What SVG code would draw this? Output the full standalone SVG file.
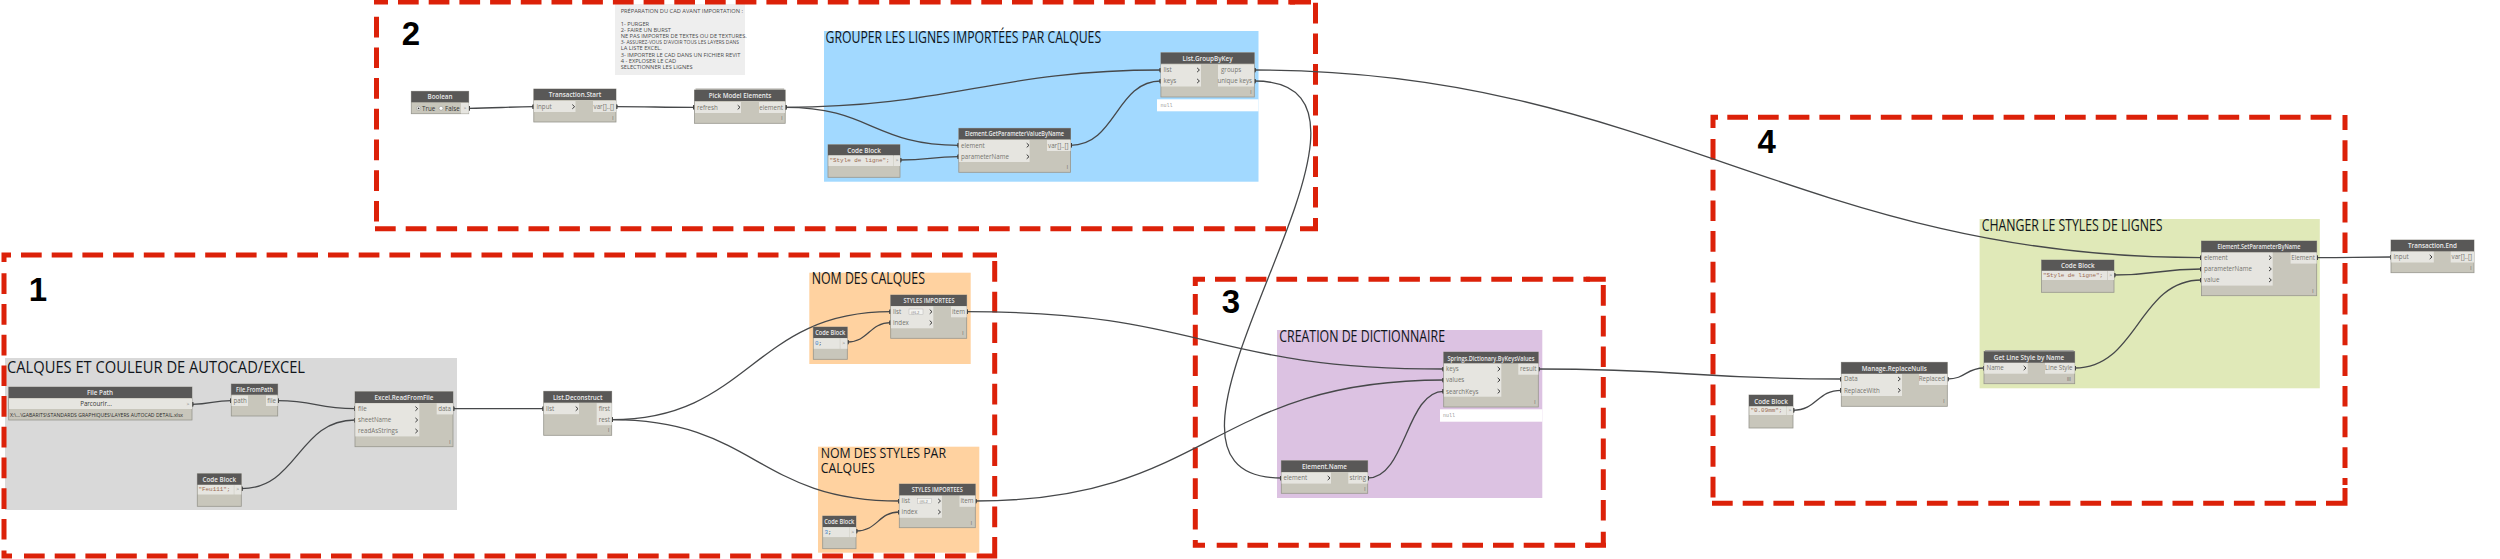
<svg xmlns="http://www.w3.org/2000/svg" width="2500" height="559" viewBox="0 0 2500 559">
<style>
text{font-family:"Open Sans","Noto Sans","Liberation Sans",sans-serif}
.d{fill:none;stroke:#dc2109;stroke-width:5;stroke-dasharray:20.7 10}
.s{fill:none;stroke:#dc2109;stroke-width:5}
.n{font-family:"Liberation Sans",Arial,sans-serif;font-weight:700;font-size:33px;fill:#000;text-anchor:middle}
.t{font-size:15.500px;fill:#10151a}
.t2{font-size:15px;fill:#10151a}
.note{font-size:5.700px;fill:#4a4a4a}
.w path{fill:none;stroke:#46484a;stroke-width:1.3;marker-start:url(#nub);marker-end:url(#nub)}
.b{fill:#c8c6bb;stroke:#97968e;stroke-width:.8}
.h{fill:#595857}
.r{fill:#e6e5e0}
.ht{font-size:6.300px;font-weight:600;fill:#ebebeb;text-anchor:middle}
.p{font-size:6.200px;fill:#75746e}
.dk{fill:#333}
.e{text-anchor:end}
.l{font-size:5px;fill:#66655f;text-anchor:middle}
.c{fill:none;stroke:#3a3a3a;stroke-width:1}
.code{font-family:"Liberation Mono","DejaVu Sans Mono",monospace;font-size:5.900px;fill:#9a6a50}
.num{fill:#4a86c8}
.sc{fill:#333}
.g{font-size:5px;fill:#777;text-anchor:middle}
.nl{font-family:"Liberation Mono",monospace;font-size:5px;fill:#999}
.lv{font-size:4.200px;fill:#777}
.sp{fill:#f3f3f0;stroke:#aaa;stroke-width:.4}
.pth{font-size:5.700px;fill:#2a2a2a}
.st{fill:#a9a8a2}
.o{fill:#fff}
</style>
<defs>
<marker id="nub" markerUnits="userSpaceOnUse" markerWidth="3" markerHeight="5" refX="1.5" refY="2.5" orient="0"><rect width="3" height="5" rx="1" fill="#3a3a3a"/></marker>
<path id="ch" class="c" d="M-1.3-2.1L1 0-1.3 2.1"/>
</defs>

<g id="groups">
<rect x="5" y="358" width="452" height="152" fill="#d9d9d9"/>
<rect x="824" y="31" width="434.500" height="150.700" fill="#a2d9ff"/>
<rect x="809.300" y="272.700" width="161.400" height="91.300" fill="#ffd2a0"/>
<rect x="818" y="446.700" width="161.300" height="106" fill="#ffd2a0"/>
<rect x="1277" y="330" width="265.300" height="168" fill="#dcc2e2"/>
<rect x="1979.600" y="219" width="340.200" height="169.300" fill="#e0e9b8"/>
<text class="t" x="7" y="372.700" textLength="298" lengthAdjust="spacingAndGlyphs">CALQUES ET COULEUR DE AUTOCAD/EXCEL</text>
<text class="t" x="825.600" y="42.700" textLength="275.500" lengthAdjust="spacingAndGlyphs">GROUPER LES LIGNES IMPORTÉES PAR CALQUES</text>
<text class="t" x="811.700" y="284" textLength="113.300" lengthAdjust="spacingAndGlyphs">NOM DES CALQUES</text>
<text class="t2" x="820.700" y="457.700" textLength="125.300" lengthAdjust="spacingAndGlyphs">NOM DES STYLES PAR</text>
<text class="t2" x="820.700" y="473.300" textLength="54" lengthAdjust="spacingAndGlyphs">CALQUES</text>
<text class="t" x="1279.300" y="341.700" textLength="165.700" lengthAdjust="spacingAndGlyphs">CREATION DE DICTIONNAIRE</text>
<text class="t" x="1981.700" y="230.700" textLength="180.800" lengthAdjust="spacingAndGlyphs">CHANGER LE STYLES DE LIGNES</text>
</g>

<g id="note">
<rect x="615" y="4" width="130" height="71" fill="#eeeeee"/>
<text class="note" x="620.700" y="13">PRÉPARATION DU CAD AVANT IMPORTATION :</text>
<text class="note" x="620.700" y="25.500">1- PURGER</text>
<text class="note" x="620.700" y="31.700">2- FAIRE UN BURST</text>
<text class="note" x="620.700" y="37.900">NE PAS IMPORTER DE TEXTES OU DE TEXTURES.</text>
<text class="note" x="620.700" y="44.100" textLength="118.300" lengthAdjust="spacingAndGlyphs">3- ASSUREZ-VOUS D'AVOIR TOUS LES LAYERS DANS</text>
<text class="note" x="620.700" y="50.300">LA LISTE EXCEL.</text>
<text class="note" x="620.700" y="56.500">3- IMPORTER LE CAD DANS UN FICHIER REVIT</text>
<text class="note" x="620.700" y="62.700">4 - EXPLOSER LE CAD</text>
<text class="note" x="620.700" y="68.900">SELECTIONNER LES LIGNES</text>
</g>

<g id="regions">
<g id="region-1">
<path class="d" d="M21 255H974M4 273.300V545M994.700 261V530M24 556H970"/>
<path class="s" d="M1.500 255H11M4 252.500V262M974 255H997M994.700 537V558.500M976.700 556H997M1.500 556H12M4 550.500V558.500"/>
<text class="n" x="38" y="301">1</text>
</g>
<g id="region-2">
<path class="d" d="M398 2H1295M376.500 16.700V222M1315.500 2.700V215M375 228.700H1290"/>
<path class="s" d="M374 2H388M1290 2H1311M1300 228.700H1318M1315.500 218V231.200"/>
<text class="n" x="411" y="45">2</text>
</g>
<g id="region-3">
<path class="d" d="M1215 279.300H1590M1195.300 294V531M1603.300 285V525M1216.700 545.300H1590"/>
<path class="s" d="M1193 279.300H1205M1195.300 276.800V286M1193 545.300H1205M1195.300 540V547.800M1586 279.300H1605.800M1606 545.300H1586M1603.300 531.700V547.800"/>
<text class="n" x="1231" y="313">3</text>
</g>
<g id="region-4">
<path class="d" d="M1727.300 117.300H2332M1713 139V498M2345 140.300V485M1712 503.300H2320"/>
<path class="s" d="M1710.500 117.300H1718M1713 115V128M2345 115V130M2345 488V505.800M2347.500 503.300H2326"/>
<text class="n" x="1766.700" y="152.700">4</text>
</g>
</g>

<g id="connectors" class="w">
<path d="M468.700 108.300C495 108.300 508 106.700 533.800 106.700"/>
<path d="M616 106.700C650 106.700 660 107.300 694.500 107.300"/>
<path d="M785.200 107.300C950 107.300 996 70 1160.900 70"/>
<path d="M785.200 107.300C870 107.300 874 145.300 958.800 145.300"/>
<path d="M900 160C930 160 930 156.700 958.800 156.700"/>
<path d="M1070.600 145.300C1116 145.300 1116 81 1160.900 81"/>
<path d="M1254.300 70C1654 70 1801 257.700 2201.400 257.700"/>
<path d="M1254.300 81C1439 81 1096 478 1281.300 478"/>
<path d="M192 404.300C212 404.300 212 400.700 231.300 400.700"/>
<path d="M277.700 400.700C316 400.700 316 408.700 355 408.700"/>
<path d="M241.300 488.700C298 488.700 298 420 355 420"/>
<path d="M453 408.700H543.700"/>
<path d="M611.700 419.700C750 419.700 752 311.700 890.700 311.700"/>
<path d="M611.700 419.700C755 419.700 756 501 899.300 501"/>
<path d="M847.300 342C869 342 869 322.700 890.700 322.700"/>
<path d="M856 531C878 531 878 512 899.300 512"/>
<path d="M966.700 311.700C1207 311.700 1204 369 1443.700 369"/>
<path d="M975.300 501C1210 501 1210 380 1443.700 380"/>
<path d="M1367.700 478C1406 478 1406 391.300 1443.700 391.300"/>
<path d="M1538.300 369C1690 369 1690 379 1841.300 379"/>
<path d="M1793 410.300C1817 410.300 1817 390.300 1841.300 390.300"/>
<path d="M1947.300 379C1966 379 1966 368 1984 368"/>
<path d="M2074.700 368C2138 368 2138 280 2201.400 280"/>
<path d="M2114 275C2158 275 2158 269 2201.400 269"/>
<path d="M2316.700 257.700C2354 257.700 2354 257 2391 257"/>
</g>

<g id="node-boolean">
<rect class="b" x="411.300" y="91.300" width="57.400" height="22.400"/><rect class="h" x="411.300" y="91.300" width="57.400" height="11"/>
<text class="ht" x="440" y="99">Boolean</text>
<circle cx="418.600" cy="108.300" r="2" fill="#fff" stroke="#888" stroke-width=".5"/><circle cx="418.600" cy="108.300" r=".9" fill="#333"/>
<text class="p dk" x="422" y="110.500">True</text>
<circle cx="441" cy="108.300" r="2" fill="#fff" stroke="#888" stroke-width=".5"/>
<text class="p dk" x="445" y="110.500">False</text>
<rect class="r" x="461" y="103" width="7.700" height="10.500"/><text class="g" x="465" y="110">&gt;</text>
</g>
<g id="node-transaction-start">
<rect class="b" x="533.800" y="89" width="82.200" height="33"/><rect class="h" x="533.800" y="89" width="82.200" height="11"/>
<text class="ht" x="575" y="97">Transaction.Start</text>
<rect class="r" x="534" y="101" width="41.500" height="11"/><text class="p" x="536.500" y="109">input</text><use href="#ch" x="573.600" y="106.700"/>
<rect class="r" x="593" y="101" width="23" height="11"/><text class="p e" x="614" y="109">var[]..[]</text>
<text class="l" x="613" y="119.500">l</text>
</g>
<g id="node-pick-model-elements">
<rect class="b" x="694.500" y="90" width="90.700" height="33.300"/><rect class="st" x="695.500" y="88.500" width="88.700" height="2"/><rect class="h" x="694.500" y="90" width="90.700" height="11"/>
<text class="ht" x="740" y="98">Pick Model Elements</text>
<rect class="r" x="695" y="102" width="46" height="11"/><text class="p" x="697" y="109.500">refresh</text><use href="#ch" x="739" y="107.300"/>
<rect class="r" x="759" y="102" width="26" height="11"/><text class="p e" x="783" y="109.500">element</text>
<text class="l" x="782" y="120.300">l</text>
</g>
<g id="node-code-block-style-1">
<rect class="b" x="828" y="144.700" width="72" height="32.600"/><rect class="h" x="828" y="144.700" width="72" height="10.700"/>
<text class="ht" x="864" y="152.500">Code Block</text>
<rect class="r" x="828.500" y="155.400" width="65" height="10.600"/><text class="code" x="829.500" y="162">"Style de ligne";</text>
<rect class="r" x="894" y="155.400" width="6" height="10.600"/><text class="g" x="897" y="162">&gt;</text>
</g>
<g id="node-get-parameter">
<rect class="b" x="958.800" y="128.300" width="111.800" height="44"/><rect class="h" x="958.800" y="128.300" width="111.800" height="11"/>
<text class="ht" x="1014.500" y="136.300" textLength="99" lengthAdjust="spacingAndGlyphs">Element.GetParameterValueByName</text>
<rect class="r" x="959" y="140" width="70.600" height="22"/>
<text class="p" x="961" y="147.500">element</text><use href="#ch" x="1028" y="145.300"/>
<text class="p" x="961" y="159">parameterName</text><use href="#ch" x="1028" y="156.700"/>
<rect class="r" x="1047" y="140" width="23.600" height="11"/><text class="p e" x="1068.500" y="147.500">var[]..[]</text>
<text class="l" x="1067.500" y="169">l</text>
</g>
<g id="node-group-by-key">
<rect class="b" x="1160.900" y="52.700" width="93.400" height="44.300"/><rect class="h" x="1160.900" y="52.700" width="93.400" height="11"/>
<text class="ht" x="1207.500" y="60.700">List.GroupByKey</text>
<rect class="r" x="1161" y="64.500" width="40" height="22"/>
<text class="p" x="1163.500" y="72.200">list</text><use href="#ch" x="1198.400" y="70"/>
<text class="p" x="1163.500" y="83.200">keys</text><use href="#ch" x="1198.400" y="81"/>
<rect class="r" x="1218" y="64.500" width="36" height="22"/>
<text class="p" x="1221" y="72.200">groups</text>
<text class="p e" x="1252" y="83.200">unique keys</text>
<text class="l" x="1251" y="94">l</text>
<rect class="o" x="1157" y="99.300" width="101.500" height="12"/><text class="nl" x="1160.500" y="107">null</text>
</g>
<g id="node-file-path">
<rect class="b" x="8.700" y="387" width="183.300" height="33"/><rect class="h" x="8.700" y="387" width="183.300" height="11"/>
<text class="ht" x="100" y="395">File Path</text>
<rect class="r" x="9" y="398.700" width="175" height="10.300"/><text class="p dk" x="96" y="405.800" text-anchor="middle">Parcourir...</text>
<rect class="r" x="184" y="398.700" width="8" height="10.300"/><text class="g" x="188" y="406">&gt;</text>
<text class="pth" x="10" y="417" textLength="173" lengthAdjust="spacingAndGlyphs">X:\...\GABARITS\STANDARDS GRAPHIQUES\LAYERS AUTOCAD DETAIL.xlsx</text>
</g>
<g id="node-file-from-path">
<rect class="b" x="231.300" y="384" width="46.400" height="32"/><rect class="h" x="231.300" y="384" width="46.400" height="10.700"/>
<text class="ht" x="254.500" y="392" textLength="37" lengthAdjust="spacingAndGlyphs">File.FromPath</text>
<rect class="r" x="231.500" y="395.500" width="16.500" height="10.500"/><text class="p" x="233.500" y="403">path</text>
<rect class="r" x="266" y="395.500" width="11.700" height="10.500"/><text class="p e" x="276" y="403">file</text>
</g>
<g id="node-excel-read">
<rect class="b" x="355" y="391.700" width="98" height="55"/><rect class="h" x="355" y="391.700" width="98" height="11.300"/>
<text class="ht" x="404" y="400">Excel.ReadFromFile</text>
<rect class="r" x="355.300" y="403.400" width="64" height="33"/>
<text class="p" x="358" y="411">file</text><use href="#ch" x="416.700" y="408.700"/>
<text class="p" x="358" y="422.300">sheetName</text><use href="#ch" x="416.700" y="420"/>
<text class="p" x="358" y="433.300">readAsStrings</text><use href="#ch" x="416.700" y="431"/>
<rect class="r" x="436.700" y="403.400" width="16.300" height="11"/><text class="p e" x="451" y="411">data</text>
<text class="l" x="450" y="443.500">l</text>
</g>
<g id="node-code-block-feu">
<rect class="b" x="197.300" y="473.700" width="44" height="32.600"/><rect class="h" x="197.300" y="473.700" width="44" height="11"/>
<text class="ht" x="219.300" y="482">Code Block</text>
<rect class="r" x="197.800" y="485" width="36" height="9.500"/><text class="code" x="198.500" y="491">"Feu111";</text>
<rect class="r" x="234.300" y="485" width="7" height="9.500"/><text class="g" x="237.800" y="491">&gt;</text>
</g>
<g id="node-list-deconstruct">
<rect class="b" x="543.700" y="391.300" width="68" height="44"/><rect class="h" x="543.700" y="391.300" width="68" height="11.300"/>
<text class="ht" x="577.700" y="399.600">List.Deconstruct</text>
<rect class="r" x="544" y="403.200" width="35" height="11"/><text class="p" x="546" y="411">list</text><use href="#ch" x="577" y="408.700"/>
<rect class="r" x="596.700" y="403.200" width="15" height="22"/>
<text class="p e" x="610" y="411">first</text><text class="p e" x="610" y="422">rest</text>
<text class="l" x="608.700" y="431.500">l</text>
</g>
<g id="node-code-block-0">
<rect class="b" x="813.300" y="327" width="34" height="32.300"/><rect class="h" x="813.300" y="327" width="34" height="11"/>
<text class="ht" x="830.300" y="335" textLength="30" lengthAdjust="spacingAndGlyphs">Code Block</text>
<rect class="r" x="813.800" y="338.300" width="26" height="10.500"/><text class="code" x="815" y="345"><tspan class="num">0</tspan><tspan class="sc">;</tspan></text>
<rect class="r" x="840.300" y="338.300" width="7" height="10.500"/><text class="g" x="843.800" y="345">&gt;</text>
</g>
<g id="node-styles-importees-1">
<rect class="b" x="890.700" y="295" width="76" height="43.300"/><rect class="h" x="890.700" y="295" width="76" height="11"/>
<text class="ht" x="929" y="303" textLength="51" lengthAdjust="spacingAndGlyphs">STYLES IMPORTEES</text>
<rect class="r" x="891" y="306.300" width="42.300" height="22"/>
<text class="p" x="893" y="314">list</text><rect class="sp" x="909" y="309" width="14" height="5.500"/><text class="lv" x="911" y="313.500">@L2</text><use href="#ch" x="931" y="311.700"/>
<text class="p" x="893" y="325">index</text><use href="#ch" x="931" y="322.700"/>
<rect class="r" x="951" y="306.300" width="15.700" height="11"/><text class="p e" x="965" y="314">item</text>
<text class="l" x="963" y="335">l</text>
</g>
<g id="node-code-block-3">
<rect class="b" x="822.700" y="516" width="33.300" height="32.700"/><rect class="h" x="822.700" y="516" width="33.300" height="11"/>
<text class="ht" x="839.300" y="524" textLength="30" lengthAdjust="spacingAndGlyphs">Code Block</text>
<rect class="r" x="823.200" y="527.300" width="26" height="9.800"/><text class="code" x="824.500" y="533.500"><tspan class="num">3</tspan><tspan class="sc">;</tspan></text>
<rect class="r" x="849.500" y="527.300" width="6.500" height="9.800"/><text class="g" x="852.800" y="533.500">&gt;</text>
</g>
<g id="node-styles-importees-2">
<rect class="b" x="899.300" y="484" width="76" height="43.700"/><rect class="h" x="899.300" y="484" width="76" height="11.300"/>
<text class="ht" x="937.300" y="492.300" textLength="51" lengthAdjust="spacingAndGlyphs">STYLES IMPORTEES</text>
<rect class="r" x="899.600" y="495.800" width="42.300" height="22"/>
<text class="p" x="901.600" y="503.300">list</text><rect class="sp" x="917.600" y="498.300" width="14" height="5.500"/><text class="lv" x="919.600" y="502.800">@L2</text><use href="#ch" x="939.500" y="501"/>
<text class="p" x="901.600" y="514.300">index</text><use href="#ch" x="939.500" y="512"/>
<rect class="r" x="959.500" y="495.800" width="15.700" height="11"/><text class="p e" x="973.500" y="503.300">item</text>
<text class="l" x="971.500" y="524.500">l</text>
</g>
<g id="node-dictionary">
<rect class="b" x="1443.700" y="352" width="94.600" height="55"/><rect class="h" x="1443.700" y="352" width="94.600" height="11.300"/>
<text class="ht" x="1491" y="360.500" textLength="87" lengthAdjust="spacingAndGlyphs">Springs.Dictionary.ByKeysValues</text>
<rect class="r" x="1444" y="363.700" width="57.300" height="33"/>
<text class="p" x="1446" y="371.300">keys</text><use href="#ch" x="1499" y="369"/>
<text class="p" x="1446" y="382.300">values</text><use href="#ch" x="1499" y="380"/>
<text class="p" x="1446" y="393.600">searchKeys</text><use href="#ch" x="1499" y="391.300"/>
<rect class="r" x="1518.300" y="363.700" width="20" height="11"/><text class="p e" x="1536.500" y="371.300">result</text>
<text class="l" x="1535" y="403.500">l</text>
<rect class="o" x="1440" y="409.300" width="102.300" height="12.400"/><text class="nl" x="1443" y="417">null</text>
</g>
<g id="node-element-name">
<rect class="b" x="1281.300" y="460.700" width="86.400" height="32.600"/><rect class="h" x="1281.300" y="460.700" width="86.400" height="11.300"/>
<text class="ht" x="1324.500" y="469">Element.Name</text>
<rect class="r" x="1281.600" y="472.600" width="49.400" height="11"/><text class="p" x="1283.500" y="480.300">element</text><use href="#ch" x="1329" y="478"/>
<rect class="r" x="1348.300" y="472.600" width="19.400" height="11"/><text class="p e" x="1366" y="480.300">string</text>
<text class="l" x="1365" y="490.500">l</text>
</g>
<g id="node-code-block-mm">
<rect class="b" x="1749" y="395" width="44" height="33"/><rect class="h" x="1749" y="395" width="44" height="11.300"/>
<text class="ht" x="1771" y="403.500">Code Block</text>
<rect class="r" x="1749.500" y="406.500" width="37" height="8.500"/><text class="code" x="1750.500" y="412">"0.09mm";</text>
<rect class="r" x="1787" y="406.500" width="6" height="8.500"/><text class="g" x="1790" y="412">&gt;</text>
</g>
<g id="node-replace-nulls">
<rect class="b" x="1841.300" y="362.300" width="106" height="44"/><rect class="h" x="1841.300" y="362.300" width="106" height="11.400"/>
<text class="ht" x="1894.300" y="370.700">Manage.ReplaceNulls</text>
<rect class="r" x="1841.600" y="374" width="60.400" height="22"/>
<text class="p" x="1844" y="381.300">Data</text><use href="#ch" x="1899.300" y="379"/>
<text class="p" x="1844" y="392.600">ReplaceWith</text><use href="#ch" x="1899.300" y="390.300"/>
<rect class="r" x="1919" y="374" width="28.300" height="11"/><text class="p e" x="1945" y="381.300">Replaced</text>
<text class="l" x="1944" y="403">l</text>
</g>
<g id="node-line-style">
<rect class="b" x="1984" y="351.500" width="90.700" height="32.200"/><rect class="st" x="1985" y="350" width="88.700" height="2"/><rect class="h" x="1984" y="351.500" width="90.700" height="11.200"/>
<text class="ht" x="2029" y="359.800">Get Line Style by Name</text>
<rect class="r" x="1984.300" y="362.900" width="43.400" height="10.800"/><text class="p" x="1986.500" y="370.300">Name</text><use href="#ch" x="2025" y="368"/>
<rect class="r" x="2045" y="362.900" width="29.700" height="10.800"/><text class="p e" x="2072.500" y="370.300">Line Style</text>
<text class="l" x="2069" y="381">lll</text>
</g>
<g id="node-set-parameter">
<rect class="b" x="2201.400" y="241" width="115.300" height="54.700"/><rect class="h" x="2201.400" y="241" width="115.300" height="11.300"/>
<text class="ht" x="2259" y="249.300" textLength="83" lengthAdjust="spacingAndGlyphs">Element.SetParameterByName</text>
<rect class="r" x="2201.700" y="252.600" width="71" height="33"/>
<text class="p" x="2204" y="260">element</text><use href="#ch" x="2270.300" y="257.700"/>
<text class="p" x="2204" y="271.300">parameterName</text><use href="#ch" x="2270.300" y="269"/>
<text class="p" x="2204" y="282.300">value</text><use href="#ch" x="2270.300" y="280"/>
<rect class="r" x="2290.600" y="252.600" width="26.100" height="11"/><text class="p e" x="2315" y="260">Element</text>
<text class="l" x="2313" y="292.500">l</text>
</g>
<g id="node-code-block-style-2">
<rect class="b" x="2041.600" y="260" width="72.400" height="32.300"/><rect class="h" x="2041.600" y="260" width="72.400" height="10.700"/>
<text class="ht" x="2077.800" y="268">Code Block</text>
<rect class="r" x="2042" y="271" width="65" height="9"/><text class="code" x="2043" y="277">"Style de ligne";</text>
<rect class="r" x="2107.700" y="271" width="6.300" height="9"/><text class="g" x="2110.800" y="277">&gt;</text>
</g>
<g id="node-transaction-end">
<rect class="b" x="2391" y="240" width="83" height="32.700"/><rect class="h" x="2391" y="240" width="83" height="11.300"/>
<text class="ht" x="2432.500" y="248.300">Transaction.End</text>
<rect class="r" x="2391.300" y="251.700" width="42.500" height="10.800"/><text class="p" x="2393.500" y="259.300">input</text><use href="#ch" x="2431" y="257"/>
<rect class="r" x="2450.700" y="251.700" width="23.300" height="10.800"/><text class="p e" x="2472" y="259.300">var[]..[]</text>
<text class="l" x="2471" y="269.500">l</text>
</g>
</svg>
